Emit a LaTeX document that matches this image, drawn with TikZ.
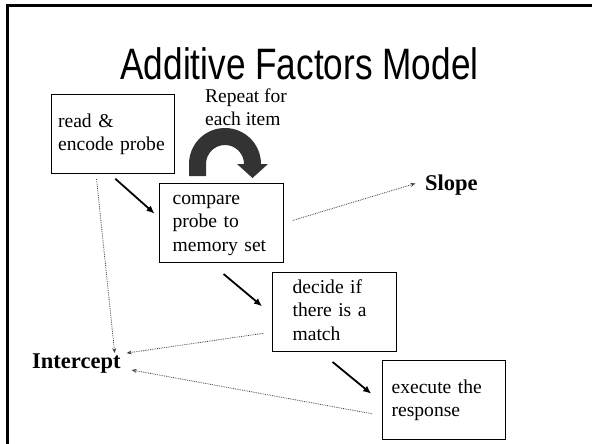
\documentclass[tikz,border=0pt]{standalone}
\usepackage{fontspec}
\setmainfont{Liberation Serif}
\newfontfamily\titlefont{Liberation Sans}
\usetikzlibrary{arrows.meta}

\tikzset{
	stage/.style={draw, line width=1.1pt, anchor=north west, align=left, minimum height=79pt, inner ysep=0pt,
		font=\fontsize{19.6}{23.5}\selectfont, execute at begin node=\strut, execute at end node=\strut},
	flow/.style={line width=1.8pt, -{Latex[length=8pt,width=7pt]}},
	effect/.style={densely dotted, line width=0.8pt, black!75, -{Stealth[length=5pt,width=4pt]}},
	factor/.style={font=\fontsize{22.5}{26}\selectfont\bfseries, inner sep=0pt, anchor=base west}
}

\begin{document}
\begin{tikzpicture}[x=1pt, y=-1pt]
	\useasboundingbox (0,0) rectangle (592,444);
	\draw[line width=3pt] (7.5,444) -- (7.5,6) -- (592,6);

	\node[anchor=base, inner sep=0pt] (title) at (299.5,80) {\titlefont\fontsize{44}{50}\selectfont\scalebox{0.8}[1]{Additive Factors Model}};

	\node[stage, text width=110pt, inner xsep=6.5pt] (read) at (51,94) {read \&\\encode probe};
	\node[stage, text width=98pt, inner xsep=13pt] (compare) at (159,183) {compare\\probe to\\memory set};
	\node[stage, text width=84pt, inner xsep=20pt] (decide) at (272,272) {decide if\\there is a\\match};
	\node[stage, text width=105pt, inner xsep=9pt] (execute) at (382,360) {execute the\\response};

	\node[anchor=north west, inner sep=0pt, align=left, font=\fontsize{19.5}{23}\selectfont] (repeat) at (205,88.5) {Repeat for\\each item};
	\fill[black!80] (189,176) -- (189,164) arc[start angle=180, end angle=360, radius=36] -- (268,164) -- (252.5,178)
		-- (237,164) -- (244,164) arc[start angle=360, end angle=180, radius=19] -- (206,176) -- cycle;

	\node[factor] (slope) at (425,190) {Slope};
	\node[factor] (intercept) at (32,368) {Intercept};

	\draw[flow, shorten <=7pt, shorten >=6pt] ([xshift=-3pt]read.south) -- ([yshift=5.5pt]compare.west);
	\draw[flow, shorten <=17pt, shorten >=13pt] ([xshift=-11pt]compare.south) -- ([yshift=-2.5pt]decide.west);
	\draw[flow, shorten <=15.5pt, shorten >=14pt] ([xshift=-14pt]decide.south) -- ([yshift=-2.5pt]execute.west);

	\draw[effect, shorten <=9pt, shorten >=10pt] (compare.east) -- ([yshift=4pt]slope.west);
	\draw[effect, shorten <=5pt] ([xshift=-17pt]read.south) -- ([xshift=-6pt]intercept.north east);
	\draw[effect, shorten <=9pt] ([yshift=-20pt]decide.west) -- ([xshift=6pt]intercept.north east);
	\draw[effect, shorten <=10pt] ([yshift=-15.5pt]execute.west) -- ([xshift=11pt,yshift=-7pt]intercept.east);
\end{tikzpicture}
\end{document}
